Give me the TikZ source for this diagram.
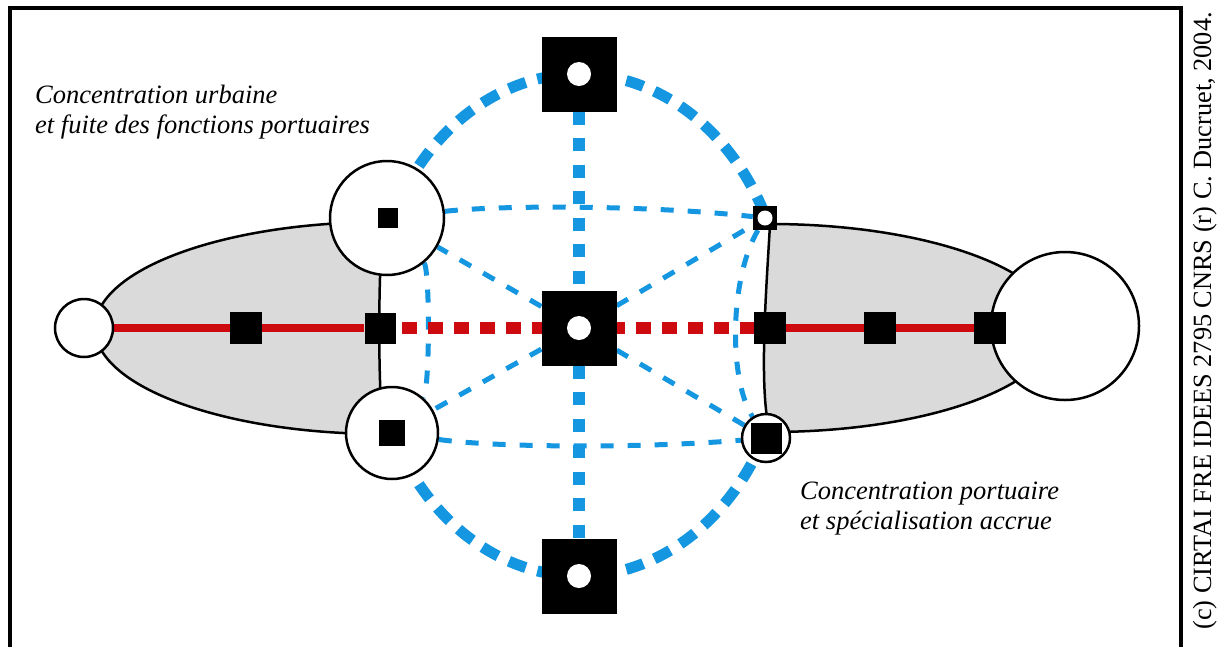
\documentclass[tikz,border=0pt]{standalone}
\usepackage{fontspec}
\setmainfont{Liberation Serif}
\usetikzlibrary{backgrounds}
\definecolor{bluedash}{RGB}{20,150,225}
\definecolor{reddash}{RGB}{205,10,15}
\definecolor{zone}{RGB}{218,218,218}
\begin{document}
\begin{tikzpicture}[x=1pt,y=-1pt,
 ring/.style={circle,draw=black,line width=2.5pt,fill=white,inner sep=0pt},
 blk/.style={rectangle,fill=black,inner sep=0pt},
 whitedot/.style={circle,fill=white,inner sep=0pt},
 zonestyle/.style={fill=zone,draw=black,line width=2.5pt},
 thinblue/.style={draw=bluedash,line width=5pt,dash pattern=on 13pt off 14pt},
 thickblue/.style={draw=bluedash,line width=12pt,dash pattern=on 13pt off 13.5pt},
 ellblue/.style={draw=bluedash,line width=11pt,dash pattern=on 18pt off 12pt},
 redsolid/.style={draw=reddash,line width=8pt},
 reddashed/.style={draw=reddash,line width=12pt,dash pattern=on 15pt off 11pt,dash phase=19.5pt},
 note/.style={font=\fontsize{26.5}{30}\selectfont\itshape,align=left,inner sep=0pt,anchor=north west},
 outerframe/.style={line width=3.5pt}
]
\useasboundingbox (0,0) rectangle (1218,646);
\draw[outerframe] (10,670) -- (10,8) -- (1181,8) -- (1181,670);

% circles
\node[ring,minimum size=58pt] (lc) at (84,328) {};
\node[ring,minimum size=114pt] (ul) at (387,218) {};
\node[ring,minimum size=92pt] (ll) at (392,433) {};
\node[ring,minimum size=48pt] (lr) at (766,438) {};
\node[ring,minimum size=148pt] (rc) at (1065,326) {};
% squares
\node[blk,minimum size=20pt] (ulq) at (388,218) {};
\node[blk,minimum size=26pt] (llq) at (392,433) {};
\node[blk,minimum size=31pt] (ml) at (380,328) {};
\node[blk,minimum size=32pt] (r1) at (246,328) {};
\node[blk,minimum size=75pt] (c) at (579,328) {};
\node[blk,minimum size=75pt] (t) at (579,74) {};
\node[blk,minimum size=75pt] (b) at (579,576) {};
\node[blk,minimum size=24pt] (ur) at (765,218) {};
\node[blk,minimum size=32pt] (mr) at (770,328) {};
\node[blk,minimum size=31pt] (lrq) at (766,438) {};
\node[blk,minimum size=32pt] (r2) at (880,328) {};
\node[blk,minimum size=32pt] (r3) at (990,328) {};
% white dots
\node[whitedot,minimum size=24pt] (cd) at (c) {};
\node[whitedot,minimum size=24pt] (td) at (t) {};
\node[whitedot,minimum size=24pt] (bd) at (b) {};
\node[whitedot,minimum size=15pt] (urd) at (ur) {};

\coordinate (E) at (579,325);

\begin{scope}[on background layer]
 % grey zones
 \draw[zonestyle] (383,222) arc[start angle=90,end angle=270,x radius=288pt,y radius=106pt]
   .. controls (378,380) and (378,280) .. cycle;
 \draw[zonestyle] (770,224) arc[start angle=90,end angle=-90,x radius=286pt,y radius=104pt]
   .. controls (758,390) and (767,280) .. cycle;
 % thin blue links
 \draw[thinblue] (ul) .. controls (500,205) and (650,205) .. (ur);
 \draw[thinblue] (ll) .. controls (500,448) and (650,448) .. (lr);
 \draw[thinblue] (c) -- (ul);
 \draw[thinblue] (c) -- (ll);
 \draw[thinblue] (c) -- (ur);
 \draw[thinblue] (c) -- (lr);
 \draw[thinblue] (ul) .. controls (430,270) and (430,390) .. (ll);
 \draw[thinblue] (ur) .. controls (729,280) and (729,380) .. (lr);
 % thick blue
 \draw[ellblue] (E) ++(155:207pt and 251pt) arc[start angle=155,end angle=25,x radius=207pt,y radius=251pt];
 \draw[ellblue] (E) ++(205:207pt and 251pt) arc[start angle=205,end angle=335,x radius=207pt,y radius=251pt];
 \draw[thickblue] (t) -- (c);
 \draw[thickblue] (c) -- (b);
 % red axis
 \draw[redsolid] (lc) -- (ml);
 \draw[reddashed] (ml) -- (mr);
 \draw[redsolid] (mr) -- (r3);
\end{scope}

\node[note] (n1) at (35,85) {Concentration urbaine\\et fuite des fonctions portuaires};
\node[note] (n2) at (800,482) {Concentration portuaire\\et spécialisation accrue};
\node[font=\fontsize{26.3}{30}\selectfont,rotate=90,anchor=base east,inner sep=0pt] (cr) at (1211,12) {(c) CIRTAI FRE IDEES 2795 CNRS (r) C. Ducruet, 2004.};
\end{tikzpicture}
\end{document}
